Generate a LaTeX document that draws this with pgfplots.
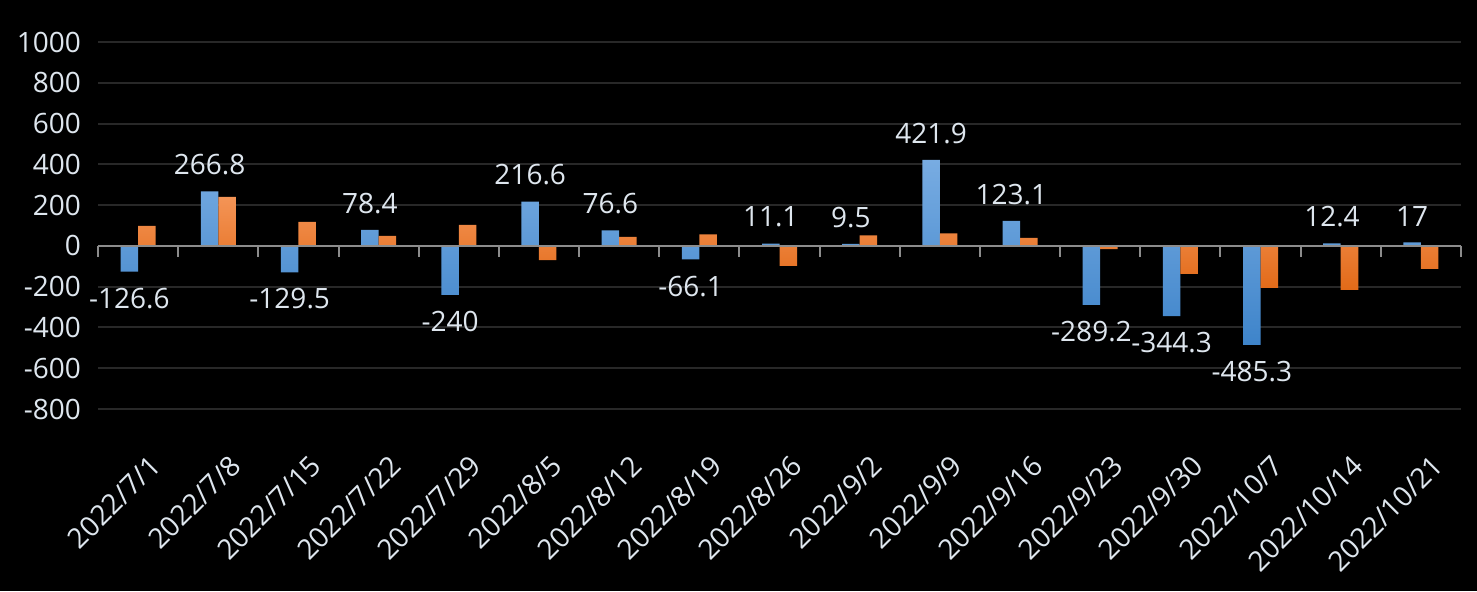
\documentclass[border=0pt]{standalone}
\usepackage{pgfplots}
\pgfplotsset{compat=1.18}
\usepackage{pgfplotstable}
\usepackage{fontspec}
\setmainfont{Open Sans}

\definecolor{txt}{RGB}{222,230,238}
\definecolor{gridc}{RGB}{40,40,40}
\definecolor{zeroc}{RGB}{140,140,140}
\definecolor{bluetop}{RGB}{120,172,226}
\definecolor{bluebot}{RGB}{62,132,202}
\definecolor{orgtop}{RGB}{244,148,86}
\definecolor{orgbot}{RGB}{226,106,24}

% weekly values: a = blue series (labelled), b = orange series
\pgfplotstableread{
x  a       b
0  -126.6  98
1  266.8   240
2  -129.5  118
3  78.4    49
4  -240    103
5  216.6   -70
6  76.6    44
7  -66.1   57
8  11.1    -98
9  9.5     52
10 421.9   62
11 123.1   39
12 -289.2  -16
13 -344.3  -137
14 -485.3  -206
15 12.4    -216
16 17      -113
}\data

\begin{document}
\begin{tikzpicture}
\useasboundingbox (-49pt,-91pt) rectangle (689.5pt,204.5pt);
\fill[black] (-49pt,-91pt) rectangle (689.5pt,204.5pt);
\begin{axis}[
    at={(0,0)}, anchor=south west,
    scale only axis,
    width=681.5pt, height=183.5pt,
    xmin=-0.5, xmax=16.5,
    ymin=-800, ymax=1000,
    ytick={-800,-600,...,1000},
    xtick={0,...,16},
    xticklabels={2022/7/1,2022/7/8,2022/7/15,2022/7/22,2022/7/29,2022/8/5,2022/8/12,2022/8/19,2022/8/26,2022/9/2,2022/9/9,2022/9/16,2022/9/23,2022/9/30,2022/10/7,2022/10/14,2022/10/21},
    ymajorgrids,
    grid style={gridc, line width=1pt},
    axis line style={draw=none},
    major tick length=0pt,
    /pgf/number format/1000 sep={},
    /pgf/number format/assume math mode=true,
    yticklabel style={font=\fontsize{14}{16}\selectfont, text=txt, xshift=-5pt},
    xticklabel style={font=\fontsize{14}{16}\selectfont, text=txt, inner sep=0pt,
        anchor=north east, xshift=5pt, yshift=-22pt, rotate=45},
    ybar=0pt, bar width=8.75pt,
]
\addplot[draw=none, top color=bluetop, bottom color=bluebot,
    nodes near coords, point meta=y,
    nodes near coords align=vertical,
    every node near coord/.append style={font=\fontsize{14}{16}\selectfont,
        text=txt, inner xsep=0pt, inner ysep=8pt,
        /pgf/number format/fixed, /pgf/number format/precision=1}]
    table[x=x, y=a] {\data};
\addplot[draw=none, top color=orgtop, bottom color=orgbot]
    table[x=x, y=b] {\data};
\end{axis}
\draw[zeroc, line width=1pt] (0,81.56pt) -- (681.5pt,81.56pt);
\foreach \k in {0,...,17}
    \draw[zeroc, line width=1pt] (\k*40.088pt,81.56pt) -- ++(0,-5.5pt);
\end{tikzpicture}
\end{document}
